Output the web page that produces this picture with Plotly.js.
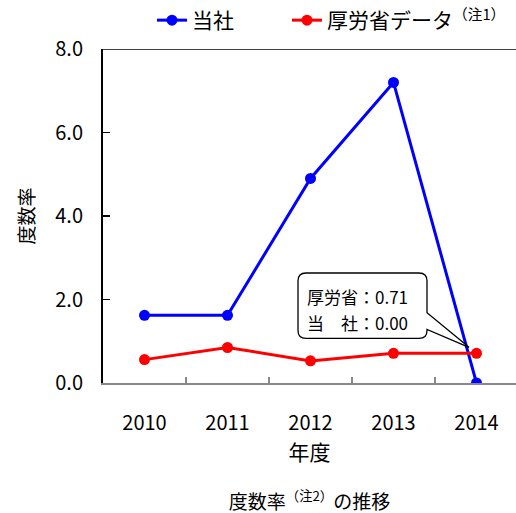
<!DOCTYPE html>
<html>
<head>
<meta charset="utf-8">
<script src="https://cdn.plot.ly/plotly-3.0.1.min.js"></script>
<style>html,body{margin:0;padding:0;background:#fff;}#chart{width:516px;height:513px;}</style>
</head>
<body>
<div id="chart"></div>
<script>
// ---- data ----
const years = ['2010', '2011', '2012', '2013', '2014'];
const companyRate = [1.62, 1.62, 4.90, 7.20, 0.00];
const mhlwRate = [0.56, 0.85, 0.53, 0.71, 0.71];
const seriesNames = ['当社', '厚労省データ<sup>（注1）</sup>'];
const calloutLines = ['厚労省：0.71', '当　社：0.00'];

// ---- layout constants ----
const W = 516, H = 513;
const M = {l: 103, r: 0, t: 46, b: 130};
const plotW = W - M.l - M.r, plotH = H - M.t - M.b;
const yMax = 8;
const font = '"Noto Sans CJK JP", "Noto Sans", sans-serif';
const px2x = p => (p - M.l) / plotW;          // pixel -> paper x
const py2y = p => (M.t + plotH - p) / plotH * yMax; // pixel -> data y

// callout (rounded box + wedge) in pixel geometry
const bx0 = 298, bx1 = 427, by0 = 272, by1 = 338, rr = 8;
const tipX = 469, tipY = 347, w1 = 312, w2 = 329;
const P = (x, y) => px2x(x) + ',' + py2y(y);
const calloutPath = 'M' + P(bx0 + rr, by0) + ' L' + P(bx1 - rr, by0) +
  ' Q' + P(bx1, by0) + ' ' + P(bx1, by0 + rr) +
  ' L' + P(bx1, w1) + ' L' + P(tipX, tipY) + ' L' + P(bx1, w2) +
  ' L' + P(bx1, by1 - rr) + ' Q' + P(bx1, by1) + ' ' + P(bx1 - rr, by1) +
  ' L' + P(bx0 + rr, by1) + ' Q' + P(bx0, by1) + ' ' + P(bx0, by1 - rr) +
  ' L' + P(bx0, by0 + rr) + ' Q' + P(bx0, by0) + ' ' + P(bx0 + rr, by0) + ' Z';

const traces = [
  {x: years, y: companyRate, name: seriesNames[0], type: 'scatter', mode: 'lines+markers',
   line: {color: '#0000ff', width: 3}, marker: {color: '#0000ff', size: 11}, legend: 'legend'},
  {x: years, y: mhlwRate, name: seriesNames[1], type: 'scatter', mode: 'lines+markers',
   line: {color: '#ff0000', width: 3}, marker: {color: '#ff0000', size: 11}, legend: 'legend2'}
];

const legendBase = {orientation: 'h', xanchor: 'left', y: 1 + (M.t - 17) / plotH, yanchor: 'middle',
  font: {size: 21, family: font}, bgcolor: 'rgba(0,0,0,0)', itemclick: false};

const layout = {
  width: W, height: H,
  margin: M,
  paper_bgcolor: '#fff', plot_bgcolor: '#fff',
  font: {family: font, color: '#000', size: 19},
  showlegend: true,
  legend: Object.assign({}, legendBase, {x: px2x(152)}),
  legend2: Object.assign({}, legendBase, {x: px2x(287)}),
  title: {text: '度数率<sup>（注2）</sup>の推移', font: {size: 19, family: font},
          x: 0.5, xref: 'paper', xanchor: 'center', y: (H - 502) / H, yref: 'container', yanchor: 'middle'},
  xaxis: {type: 'category', range: [-0.5, -0.5 + plotW / 83], autorange: false,
          showline: true, linecolor: '#888', linewidth: 2, showgrid: false, zeroline: false,
          ticks: 'inside', tickson: 'boundaries', ticklen: 6, tickcolor: '#888', tickwidth: 1.5,
          tickfont: {size: 20}, ticklabelstandoff: 21,
          title: {text: '年度', font: {size: 21}, standoff: 7}},
  yaxis: {range: [0, yMax], autorange: false, dtick: 2, tickformat: '.1f',
          showline: true, linecolor: '#000', linewidth: 2, showgrid: false, zeroline: false,
          ticks: 'inside', ticklen: 7, tickcolor: '#000', tickwidth: 1.5,
          tickfont: {size: 20}, ticklabelstandoff: 14,
          title: {text: '度数率', font: {size: 19}, standoff: 16}},
  shapes: [
    {type: 'line', xref: 'paper', yref: 'y', x0: 0, x1: 1, y0: yMax, y1: yMax,
     line: {color: '#404040', width: 2}, layer: 'above'},
    {type: 'path', xref: 'paper', yref: 'y', path: calloutPath,
     fillcolor: '#ffffff', line: {color: '#000', width: 1.3}, layer: 'above'}
  ],
  annotations: [
    {xref: 'paper', yref: 'y', x: px2x(305), y: py2y(296), xanchor: 'left', yanchor: 'middle',
     text: calloutLines[0], showarrow: false, font: {size: 17, family: font}},
    {xref: 'paper', yref: 'y', x: px2x(305), y: py2y(322), xanchor: 'left', yanchor: 'middle',
     text: calloutLines[1], showarrow: false, font: {size: 17, family: font}}
  ]
};

Plotly.newPlot('chart', traces, layout, {displayModeBar: false, staticPlot: true});
</script>
</body>
</html>
